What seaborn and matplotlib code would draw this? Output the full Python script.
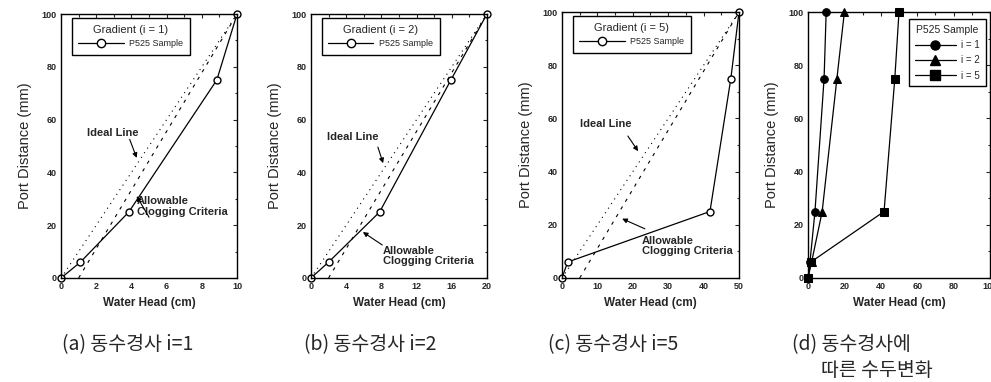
import matplotlib
matplotlib.use('Agg')
import matplotlib.pyplot as plt
import seaborn as sns
from matplotlib.ticker import MultipleLocator
from matplotlib.lines import Line2D

# Port distance (mm) of the sampling ports
port_distance = [0, 6, 25, 75, 100]

# Water head (cm) measured at each port, P525 sample
head_i1 = [0, 1.1, 3.85, 8.85, 10]
head_i2 = [0, 2.0, 7.8, 15.9, 20]
head_i5 = [0, 1.6, 41.8, 47.7, 50]

# Reference lines (end points)
ref_y = [0, 100]
ideal_i1 = [0, 10]
ideal_i2 = [0, 20]
ideal_i5 = [0, 50]
allow_i1 = [1, 10]
allow_i2 = [2, 20]
allow_i5 = [5, 50]

gradients = ['1', '2', '5']
x_max = [10, 20, 50]
x_step = [2, 4, 10]
captions = ['(a) 동수경사 i=1', '(b) 동수경사 i=2', '(c) 동수경사 i=5']

sns.set_style('white')
plt.rcParams['font.family'] = ['Liberation Sans', 'DejaVu Sans']

fig = plt.figure(figsize=(9.91, 3.82), dpi=100)

# axes boxes in figure fractions
boxes = [
    [0.0616, 0.2723, 0.1776, 0.691],
    [0.3138, 0.2723, 0.1776, 0.691],
    [0.5671, 0.2723, 0.1786, 0.696],
    [0.8153, 0.2723, 0.1837, 0.696],
]

# text / arrow positions for annotations (data coords)
ideal_txt = [(1.5, 55), (1.8, 53.4), (5.1, 58)]
ideal_arrow = [((3.9, 52.5), (4.3, 45.5)), ((7.6, 49.6), (8.2, 43.5)), ((18.6, 53.4), (21.5, 47.7))]
allow_txt = [(4.3, 27.0), (8.2, 8.3), (22.6, 12)]
allow_arrow = [((5.0, 23.0), (4.3, 31)), ((8.1, 12.5), (5.9, 17.4)), ((23.4, 18.5), (17.0, 22.3))]

heads = [head_i1, head_i2, head_i5]
ideals = [ideal_i1, ideal_i2, ideal_i5]
allows = [allow_i1, allow_i2, allow_i5]


def style_axes(ax, xmax, xstep):
    ax.set_xlim(0, xmax)
    ax.set_ylim(0, 100)
    ax.xaxis.set_major_locator(MultipleLocator(xstep))
    ax.xaxis.set_minor_locator(MultipleLocator(xstep / 2))
    ax.yaxis.set_major_locator(MultipleLocator(20))
    ax.yaxis.set_minor_locator(MultipleLocator(10))
    ax.tick_params(which='both', direction='in', top=True, right=True, width=0.8,
                   labelsize=6.5, pad=3)
    ax.tick_params(which='major', length=3)
    ax.tick_params(which='minor', length=1.8)
    for lab in ax.get_xticklabels() + ax.get_yticklabels():
        lab.set_fontweight('bold')
    for sp in ax.spines.values():
        sp.set_color('black')
        sp.set_linewidth(1.0)
    ax.set_xlabel('Water Head (cm)', fontsize=8.5, fontweight='bold', labelpad=4)
    ax.set_ylabel('Port Distance (mm)', fontsize=10.5, labelpad=7)


for k in range(3):
    ax = fig.add_axes(boxes[k])
    sns.lineplot(x=ideals[k], y=ref_y, ax=ax, color='black', lw=0.8,
                 linestyle=(0, (1, 4)))
    sns.lineplot(x=allows[k], y=ref_y, ax=ax, color='black', lw=0.8,
                 linestyle=(0, (3, 5)))
    sns.lineplot(x=heads[k], y=port_distance, ax=ax, sort=False, color='black',
                 lw=0.9, marker='o', markersize=5, markerfacecolor='white',
                 markeredgecolor='black', markeredgewidth=1, clip_on=False)
    style_axes(ax, x_max[k], x_step[k])

    handle = Line2D([], [], color='black', lw=0.9, marker='o', markersize=6,
                    markerfacecolor='white', markeredgecolor='black')
    leg = ax.legend([handle], ['P525 Sample'], title='Gradient (i = %s)' % gradients[k],
                    loc='upper left', bbox_to_anchor=(0.06, 0.985), borderaxespad=0,
                    fontsize=6.5, title_fontsize=8, handlelength=5, handletextpad=0.6,
                    frameon=True, fancybox=False, edgecolor='black', framealpha=1,
                    borderpad=0.75)
    leg.get_frame().set_linewidth(1.0)

    tx, ty = ideal_txt[k]
    ax.text(tx, ty, 'Ideal Line', fontsize=8, fontweight='bold', va='center')
    ax.annotate('', xy=ideal_arrow[k][1], xytext=ideal_arrow[k][0],
                arrowprops=dict(arrowstyle='-|>', color='black', lw=0.8,
                                mutation_scale=7, shrinkA=0, shrinkB=0))
    tx, ty = allow_txt[k]
    ax.text(tx, ty, 'Allowable\nClogging Criteria', fontsize=8, fontweight='bold',
            va='center', linespacing=1.1)
    ax.annotate('', xy=allow_arrow[k][1], xytext=allow_arrow[k][0],
                arrowprops=dict(arrowstyle='-|>', color='black', lw=0.8,
                                mutation_scale=7, shrinkA=0, shrinkB=0))

# (d) all gradients together
ax = fig.add_axes(boxes[3])
markers = ['o', '^', 's']
handles = []
for k in range(3):
    sns.lineplot(x=heads[k], y=port_distance, ax=ax, sort=False, color='black',
                 lw=0.9, marker=markers[k], markersize=5.5, markerfacecolor='black',
                 markeredgecolor='black', clip_on=False)
    handles.append(Line2D([], [], color='black', lw=0.9, marker=markers[k],
                          markersize=6.5, markerfacecolor='black'))
style_axes(ax, 100, 20)
leg = ax.legend(handles, ['i = 1', 'i = 2', 'i = 5'], title='P525 Sample',
                loc='upper right', bbox_to_anchor=(0.978, 0.975), borderaxespad=0,
                fontsize=7, title_fontsize=7.5, handlelength=4.2, handletextpad=0.6,
                labelspacing=0.55, frameon=True, fancybox=False, edgecolor='black',
                framealpha=1, borderpad=0.6)
leg.get_frame().set_linewidth(1.0)

# captions
cjk = ['Noto Sans CJK KR', 'DejaVu Sans']
cap_x = [0.0626, 0.307, 0.553]
for k in range(3):
    fig.text(cap_x[k], 0.098, captions[k], fontsize=14, family=cjk, va='center')
fig.text(0.799, 0.098, '(d) 동수경사에', fontsize=14, family=cjk, va='center')
fig.text(0.828, 0.03, '따른 수두변화', fontsize=14, family=cjk, va='center')

fig.savefig('out.png', dpi=100)
